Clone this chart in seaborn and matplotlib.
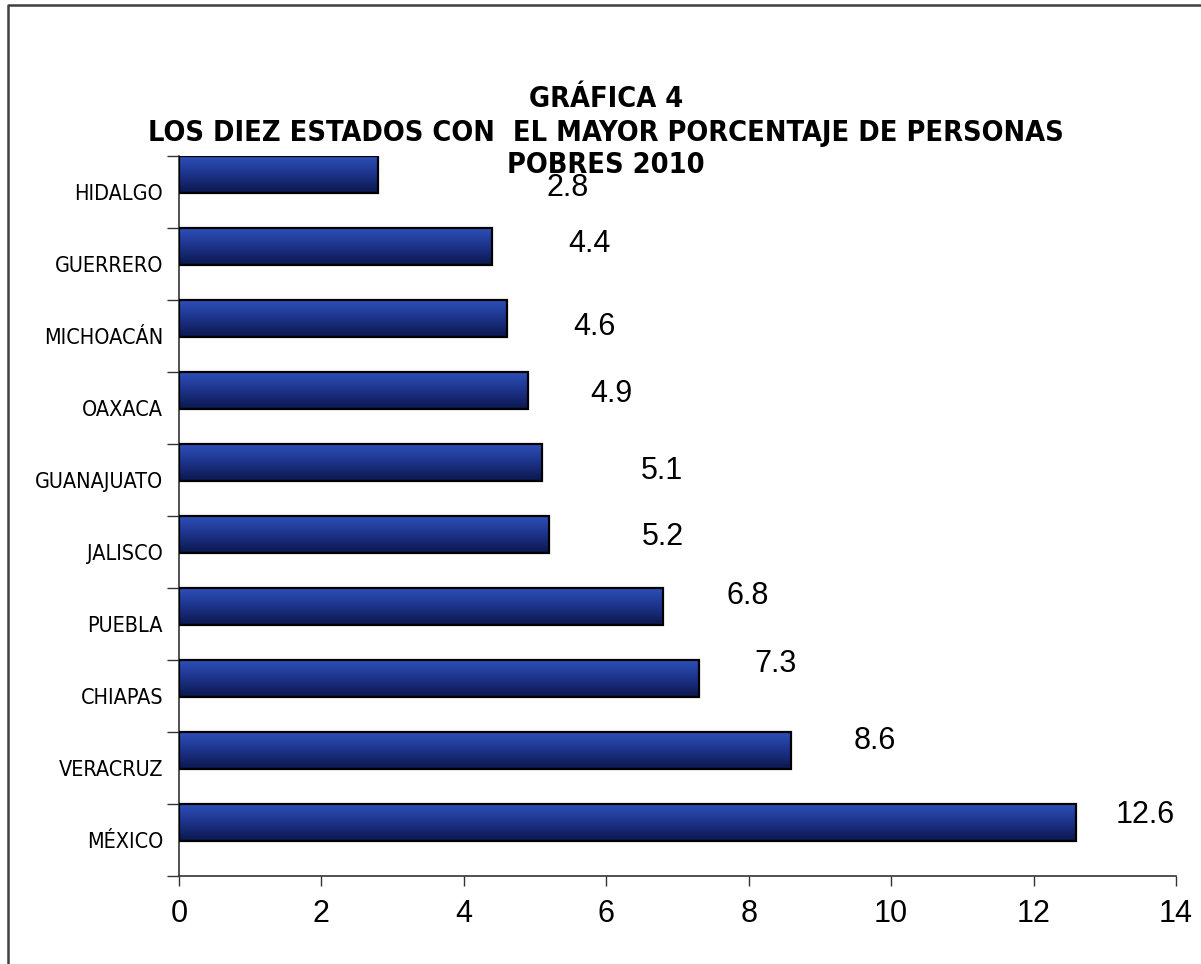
import matplotlib
matplotlib.use('Agg')
import matplotlib.pyplot as plt
import numpy as np
import pandas as pd
import seaborn as sns
from matplotlib import font_manager
from matplotlib.font_manager import FontProperties
from matplotlib.colors import LinearSegmentedColormap
from matplotlib.lines import Line2D

#Datos de la grafica
estados = ["HIDALGO", "GUERRERO", "MICHOACÁN", "OAXACA", "GUANAJUATO",
           "JALISCO", "PUEBLA", "CHIAPAS", "VERACRUZ", "MÉXICO"]
porcentaje = [2.8, 4.4, 4.6, 4.9, 5.1, 5.2, 6.8, 7.3, 8.6, 12.6]
ticks_x = [0, 2, 4, 6, 8, 10, 12, 14]

#Donde quedaron las etiquetas de datos (movidas a mano en el original)
label_x = [5.46, 5.76, 5.83, 6.07, 6.78, 6.80, 7.99, 8.38, 9.77, 13.57]
label_dy = [-0.11, -0.32, -0.17, -0.24, -0.17, -0.26, -0.44, -0.50, -0.42, -0.40]

titulo = ["GRÁFICA 4",
          "LOS DIEZ ESTADOS CON  EL MAYOR PORCENTAJE DE PERSONAS",
          "POBRES 2010"]

df = pd.DataFrame({"estado": estados, "pct": porcentaje})

sns.set_theme(style="white", rc={"text.color": "black", "xtick.color": "black",
                                 "ytick.color": "black"})
plt.rcParams['font.family'] = ["Liberation Sans", "DejaVu Sans"]


#buscar una fuente angosta tipo Arial Narrow, si hay
def angosta(bold):
    cands = []
    for f in font_manager.fontManager.ttflist:
        st = f.stretch
        if isinstance(st, str):
            st = font_manager.stretch_dict.get(st, 500)
        if "Narrow" in f.name or "Condensed" in f.name or st < 500:
            w = f.weight if isinstance(f.weight, int) else font_manager.weight_dict.get(f.weight, 400)
            if f.style != "normal":
                continue
            cands.append((abs(w - (700 if bold else 400)), f.fname))
    if cands:
        cands.sort()
        return FontProperties(fname=cands[0][1])
    return FontProperties(family="Liberation Sans", weight="bold" if bold else "normal")


fp_lab = angosta(False)
fp_tit = angosta(True)

fig = plt.figure(figsize=(12.01, 9.64), dpi=100)
ax = fig.add_axes([179/1201, 1-876/964, (1176-179)/1201, (876-156)/964])

sns.barplot(data=df, x="pct", y="estado", orient="h", width=0.51,
            color="#1c327f", edgecolor="black", linewidth=1.6, ax=ax)

#Excel deja la barra pegada arriba de su espacio
cmap = LinearSegmentedColormap.from_list("barra", ["#2e4fb8", "#1c3388", "#0b174d"])
grad = np.linspace(0, 1, 64).reshape(-1, 1)
for i, p in enumerate(ax.patches):
    p.set_y(i - 0.5)
    p.set_facecolor("none")
    p.set_zorder(3)
    x0, y0, w, h = p.get_x(), p.get_y(), p.get_width(), p.get_height()
    im = ax.imshow(grad, extent=[x0, x0 + w, y0 + h, y0], origin="upper",
                   aspect="auto", cmap=cmap, zorder=2)
    im.set_clip_path(p)

ax.set_xlim(0, 14)
ax.set_ylim(9.5, -0.5)
ax.set_xticks(ticks_x)
ax.set_xticklabels([str(t) for t in ticks_x], fontsize=22)
ax.set_yticks(np.arange(-0.5, 10, 1))
ax.set_yticklabels([])
ax.set_yticks(np.arange(len(estados)), minor=True)
ax.set_yticklabels(estados, minor=True)
ax.tick_params(axis="y", which="major", length=8.6, width=1, color="#333333",
               direction="out", left=True)
ax.tick_params(axis="y", which="minor", length=0, pad=11.5)
ax.tick_params(axis="x", length=7.2, width=1, color="#333333", direction="out",
               bottom=True, pad=9)
ax.set_xlabel("")
ax.set_ylabel("")
for s in ["top", "right"]:
    ax.spines[s].set_visible(False)
for s in ["left", "bottom"]:
    ax.spines[s].set_color("#333333")
    ax.spines[s].set_linewidth(1.2)

for i, v in enumerate(porcentaje):
    ax.text(label_x[i], i + label_dy[i], f"{v:.1f}", fontsize=22,
            ha="center", va="center_baseline", color="black")

#ajustar tamaños para que el ancho sea como en el original
renderer = fig.canvas.get_renderer()
prueba = fig.text(0, 0, "GUANAJUATO", fontproperties=fp_lab, fontsize=15)
ancho = prueba.get_window_extent(renderer).width
prueba.remove()
tam_lab = min(16, 15 * 129 / ancho)
for t in ax.get_yticklabels(minor=True):
    t.set_fontproperties(fp_lab)
    t.set_fontsize(tam_lab)
    t.set_color("black")

prueba = fig.text(0, 0, titulo[1], fontproperties=fp_tit, fontsize=20)
ancho = prueba.get_window_extent(renderer).width
prueba.remove()
tam_tit = 20 * 915 / ancho
for k, y in enumerate([96, 130, 162]):
    fig.text(606/1201, 1 - y/964, titulo[k], ha="center", va="center_baseline",
             fontproperties=fp_tit, fontsize=tam_tit, color="black")

#Marco del grafico
fig.add_artist(Line2D([8/1201, 8/1201, 1], [0, 1-5/964, 1-5/964],
                      transform=fig.transFigure, color="#404040", lw=1.8))

fig.savefig("out.png", dpi=100)
